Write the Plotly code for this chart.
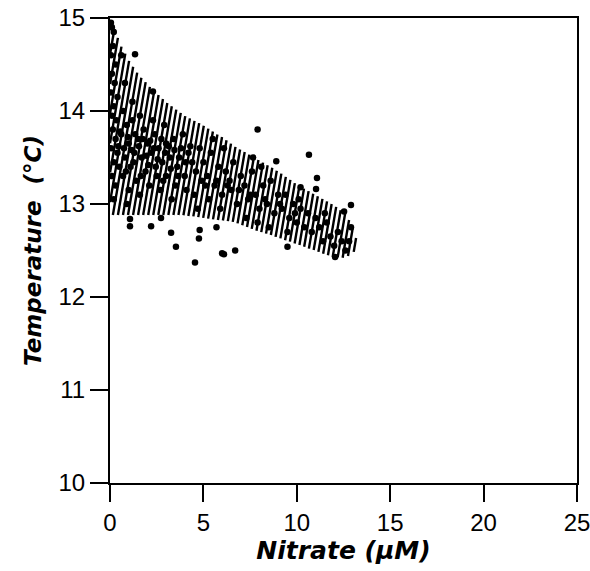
import numpy as np
import plotly.graph_objects as go

# Band (hatched envelope) boundaries
band_upper_x = [0, 0.25, 0.55, 1.0, 1.5, 2.2, 3.0, 4.0, 4.8, 6.0, 6.7, 7.9, 8.8, 10.1, 11.9, 12.6, 12.95, 13.2, 13.3]
band_upper_y = [15.0, 14.88, 14.72, 14.55, 14.4, 14.25, 14.1, 13.95, 13.87, 13.72, 13.62, 13.48, 13.38, 13.2, 13.0, 12.9, 12.78, 12.62, 12.55]
band_lower_x = [0, 2.0, 3.75, 5.0, 6.7, 7.7, 8.8, 10.1, 11.2, 11.9, 12.5, 12.95, 13.2, 13.3]
band_lower_y = [12.88, 12.88, 12.88, 12.85, 12.8, 12.72, 12.65, 12.56, 12.48, 12.43, 12.42, 12.46, 12.52, 12.55]

# Observations: nitrate (uM), temperature (C)
nitrate = [
    0.05, 0.1, 0.2, 0.15, 0.05, 0.3, 0.1, 0.25, 0.05, 0.4, 0.2, 0.1, 0.35, 0.15, 0.3, 0.05, 0.4, 0.2, 0.1, 0.3, 0.2,
    0.6, 0.8, 0.7, 0.9, 0.6, 1.0, 1.2, 0.8, 1.1, 1.3, 0.7, 1.4, 1.0, 1.5, 1.2, 0.9,
    1.6, 1.8, 2.0, 1.7, 2.2, 2.4, 1.9, 2.6, 2.1, 2.8, 2.5, 3.0, 2.3, 2.7, 1.6, 3.0, 2.9,
    3.2, 3.4, 3.6, 3.8, 4.0, 4.2, 4.4, 3.5, 4.6, 4.8, 3.3, 4.1, 4.5, 4.9, 3.9, 4.7,
    5.0, 5.2, 5.4, 5.6, 5.8, 6.0, 6.2, 6.4, 6.6, 6.8, 5.3, 5.9, 6.5, 7.0, 6.1, 5.5,
    7.2, 7.4, 7.6, 7.8, 8.0, 8.2, 8.4, 8.6, 8.8, 9.0, 7.3, 8.1, 7.9, 8.5,
    9.2, 9.4, 9.6, 9.8, 10.0, 10.2, 10.4, 10.6, 10.8, 11.0, 9.5, 10.1,
    11.2, 11.4, 11.6, 11.8, 12.0, 12.2, 12.4, 12.6, 11.5, 12.8,
    0.45, 0.55, 0.75, 0.95, 1.15, 1.35, 1.55, 1.75, 1.95, 2.15, 2.35, 2.55, 2.75, 2.95, 3.15, 3.45, 3.7, 4.3,
    0.5, 0.85, 1.25, 1.65, 2.05, 2.45, 2.85, 3.25, 3.65, 4.05, 5.1, 5.7, 6.3, 6.9, 7.5, 8.3, 9.1, 9.9,
    1.34, 2.3, 7.9, 7.66, 8.9, 4.8, 4.76, 5.7, 6.0, 6.1, 6.7, 4.55,
    1.07, 1.07, 2.2, 2.73, 3.27, 3.53, 10.65, 11.08, 11.03, 10.2, 12.9, 12.53, 12.9, 9.5, 12.05,
]
temperature = [
    14.95, 14.9, 14.85, 14.7, 14.6, 14.5, 14.4, 14.3, 14.2, 14.15, 14.05, 13.95, 13.9, 13.8, 13.7, 13.6, 13.55, 13.45, 13.3, 13.2, 13.05,
    14.6, 14.3, 14.0, 13.85, 13.75, 13.65, 13.9, 13.5, 13.4, 13.55, 13.3, 13.25, 13.15, 13.7, 14.1, 13.0,
    13.95, 13.8, 13.65, 13.5, 13.55, 13.75, 13.35, 13.6, 13.2, 13.45, 13.3, 13.65, 13.9, 13.15, 13.1, 13.3, 13.85,
    13.5, 13.7, 13.4, 13.6, 13.3, 13.55, 13.45, 13.2, 13.35, 13.6, 13.05, 13.15, 13.1, 13.25, 13.75, 12.95,
    13.45, 13.3, 13.55, 13.2, 13.4, 13.1, 13.35, 13.25, 13.45, 13.0, 13.05, 12.95, 13.15, 13.3, 13.6, 13.7,
    13.2, 13.05, 13.35, 13.1, 12.95, 13.2, 13.0, 13.25, 12.9, 13.1, 12.85, 13.4, 12.8, 12.75,
    12.95, 13.1, 12.85, 13.0, 12.8, 12.95, 12.75, 12.9, 12.7, 12.85, 12.7, 13.05,
    12.75, 12.6, 12.8, 12.65, 12.55, 12.7, 12.6, 12.5, 12.9, 12.6,
    13.62, 13.78, 13.6, 13.72, 13.58, 13.75, 13.62, 13.7, 13.52, 13.68, 13.6, 13.48, 13.7, 13.55, 13.62, 13.58, 13.5, 13.62,
    13.4, 13.35, 13.45, 13.3, 13.42, 13.4, 13.25, 13.38, 13.3, 13.45, 13.2, 13.25, 13.2, 13.15, 13.1, 13.05, 13.0, 12.9,
    14.61, 14.21, 13.8, 13.5, 13.46, 12.72, 12.63, 12.75, 12.47, 12.46, 12.5, 12.37,
    12.84, 12.76, 12.76, 12.85, 12.69, 12.54, 13.53, 13.28, 13.16, 13.18, 12.99, 12.92, 12.75, 12.54, 12.43,
]

x_ticks = [0, 5, 10, 15, 20, 25]
y_ticks = [10, 11, 12, 13, 14, 15]

# Build hatch lines clipped to the band (steep "/" hatching)
bx = np.linspace(0, 13.3, 600)
yu = np.interp(bx, band_upper_x, band_upper_y)
yl = np.interp(bx, band_lower_x, band_lower_y)
slope = 0.85  # data-x per data-y along each hatch line
ys = np.linspace(12.3, 15.05, 700)
hx, hy = [], []
for x0 in np.arange(-2.5, 13.6, 0.27):
    xs = x0 + slope * (ys - 12.3)
    inside = (xs >= 0) & (xs <= 13.3)
    up = np.interp(xs, bx, yu)
    lo = np.interp(xs, bx, yl)
    inside &= (ys <= up) & (ys >= lo)
    idx = np.where(inside)[0]
    if len(idx) == 0:
        continue
    runs = np.split(idx, np.where(np.diff(idx) > 1)[0] + 1)
    for r in runs:
        if len(r) < 2:
            continue
        hx += [xs[r[0]], xs[r[-1]], None]
        hy += [ys[r[0]], ys[r[-1]], None]

fig = go.Figure()
fig.add_trace(go.Scatter(x=hx, y=hy, mode="lines", line=dict(color="black", width=2.4),
                         hoverinfo="skip", showlegend=False))
fig.add_trace(go.Scatter(x=nitrate, y=temperature, mode="markers",
                         marker=dict(color="black", size=6.5), showlegend=False))

tick_font = dict(family="Liberation Sans, Arial, sans-serif", size=24, color="black")
fig.update_layout(
    width=590, height=571,
    margin=dict(l=110, r=13, t=18, b=88),
    paper_bgcolor="white", plot_bgcolor="white",
    font=dict(family="Liberation Sans, Arial, sans-serif", color="black", size=21),
)
fig.update_xaxes(
    range=[0, 25], tickvals=x_ticks, ticktext=[str(v) for v in x_ticks],
    showgrid=False, zeroline=False, showline=True, linecolor="black", linewidth=2,
    mirror=True, ticks="outside", ticklen=17, tickwidth=2, tickcolor="black",
    tickfont=tick_font, automargin=False, ticklabeloverflow="allow",
    title=dict(text="<b><i>Nitrate (µM)</i></b>",
               font=dict(family="DejaVu Sans, sans-serif", size=25, color="black"), standoff=4),
)
fig.update_yaxes(
    range=[10, 15], tickvals=y_ticks, ticktext=[str(v) for v in y_ticks],
    showgrid=False, zeroline=False, showline=True, linecolor="black", linewidth=2,
    mirror=True, ticks="outside", ticklen=18, tickwidth=2, tickcolor="black",
    tickfont=tick_font, automargin=False, ticklabeloverflow="allow",
    title=dict(text="<b><i>Temperature\u00a0\u00a0(°C)</i></b>",
               font=dict(family="DejaVu Sans, sans-serif", size=23, color="black"), standoff=10),
)

fig.write_html("out.html", config={"displayModeBar": False},
               post_script="document.body.style.margin='0px';document.body.style.overflow='hidden';")
